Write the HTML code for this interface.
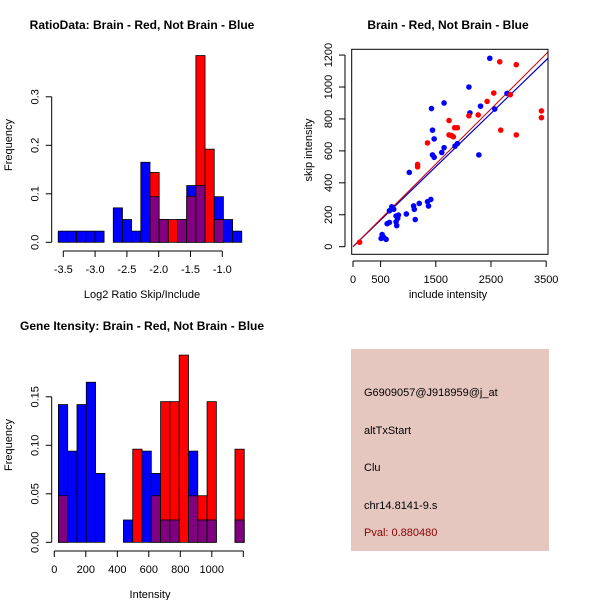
<!DOCTYPE html>
<html><head><meta charset="utf-8"><style>
html,body{margin:0;padding:0;background:#fff}
svg{display:block;font-family:"Liberation Sans",sans-serif}
</style></head><body>
<svg id="c" width="600" height="600" viewBox="0 0 600 600"></svg>
<script>
// ---- Data ----
const ratioBlue=[0.023,0.023,0.023,0.023,0.023,0,0.071,0.047,0.023,0.165,0.094,0.047,0,0.047,0.117,0.117,0,0.094,0.047,0.023];
const ratioRed=[0,0,0,0,0,0,0,0,0,0,0.144,0.047,0.047,0.047,0.095,0.385,0.192,0.047,0,0];
const ratioStart=-3.58, ratioWidth=0.1443;
const ratioTicks=[-3.5,-3.0,-2.5,-2.0,-1.5,-1.0];
const ratioYTicks=[0,0.1,0.2,0.3];
const intBlue=[0.142,0.094,0.142,0.165,0.071,0,0,0.023,0,0.094,0.071,0.023,0.023,0,0.094,0.023,0.023,0,0,0.023];
const intRed=[0.048,0,0,0,0,0,0,0,0.096,0,0.048,0.145,0.145,0.193,0.048,0.048,0.145,0,0,0.096];
const intStart=26, intWidth=59;
const intTicks=[0,200,400,600,800,1000,1200];
const intYTicks=[0,0.05,0.10,0.15];
const blueX=[528,510,558,600,618,660,702,660,738,780,780,792,810,822,966,1020,1098,1110,1128,1200,1350,1368,1410,1422,1440,1440,1470,1470,1650,1650,1608,1848,1890,2100,2118,2310,2280,2478,2568,2790];
const blueY=[76,52,58,46,144,152,250,225,234,192,156,132,178,198,205,465,255,234,170,271,282,255,296,865,730,575,560,675,900,620,590,630,645,1000,838,880,575,1180,862,960];
const redX=[120,1170,1170,1350,1740,1740,1788,1818,1842,1890,2100,2268,2430,2550,2658,2676,2850,2958,2958,3414,3414];
const redY=[28,500,515,650,790,700,695,688,745,745,820,825,910,962,1158,730,952,700,1140,850,808];
const redSlope=0.345, blueSlope=0.334;
const xTicksS=[0,500,1500,2500,3500];
const yTicksS=[0,200,400,600,800,1000,1200];
const infoLines=["G6909057@J918959@j_at","altTxStart","Clu","chr14.8141-9.s"];
const pval="Pval: 0.880480";

const svg=document.getElementById('c');
const NS='http://www.w3.org/2000/svg';
function mk(tag,attrs,parent){const e=document.createElementNS(NS,tag);for(const k in attrs)e.setAttribute(k,attrs[k]);(parent||svg).appendChild(e);return e;}
function txt(x,y,s,size,opts){const t=mk('text',Object.assign({x:x,y:y,'font-size':size,'text-anchor':'middle',fill:'#000'},opts||{}));t.textContent=s;return t;}

function hist(blue,red,start,width,sx,sy,name){
  const g=mk('g',{});
  
  
  for(let i=0;i<blue.length;i++){
    const x0=sx(start+i*width),x1=sx(start+(i+1)*width);
    const b=blue[i],r=red[i];
    const hi=Math.max(b,r),lo=Math.min(b,r);
    if(hi>0){
      const rc=mk('rect',{x:x0,y:sy(hi),width:x1-x0,height:sy(0)-sy(hi),fill:b>=r?'#0000ff':'#ff0000',stroke:'#000','stroke-width':0.8},g);
      
      
    }
    if(lo>0){
      const rc=mk('rect',{x:x0,y:sy(lo),width:x1-x0,height:sy(0)-sy(lo),fill:'#800080',stroke:'#000','stroke-width':0.8},g);
      
      
    }
  }
}
function yaxis(x,ticks,sy,fmt,name){
  const g=mk('g',{});
  
  
  mk('line',{x1:x,x2:x,y1:sy(ticks[0]),y2:sy(ticks[ticks.length-1]),stroke:'#000'},g);
  ticks.forEach(v=>{const y=sy(v);mk('line',{x1:x-6,x2:x,y1:y,y2:y,stroke:'#000'},g);
    const t=txt(x-13,y,fmt(v),11,{transform:'rotate(-90 '+(x-13)+' '+y+')'});g.appendChild(t);});
}
function xaxis(y,ticks,sx,fmt,name,skip){
  const g=mk('g',{});
  
  
  mk('line',{x1:sx(ticks[0]),x2:sx(ticks[ticks.length-1]),y1:y,y2:y,stroke:'#000'},g);
  ticks.forEach((v,i)=>{const x=sx(v);mk('line',{x1:x,x2:x,y1:y,y2:y+6,stroke:'#000'},g);
    if(!(skip&&skip.includes(i))){const t=txt(x,y+22,fmt(v),11);g.appendChild(t);}});
}

// Panel 1
{const sx=v=>63.3+(v+3.5)*63.6, sy=v=>242.3-v*485;
 hist(ratioBlue,ratioRed,ratioStart,ratioWidth,sx,sy,'ratio-histogram');
 yaxis(51.7,ratioYTicks,sy,v=>v.toFixed(1),'ratio-y-axis');
 xaxis(251,ratioTicks,sx,v=>v.toFixed(1),'ratio-x-axis');
 txt(142,29,'RatioData: Brain - Red, Not Brain - Blue',12,{'font-weight':'bold'});
 txt(142,298,'Log2 Ratio Skip/Include',11);
 txt(12,145,'Frequency',11,{transform:'rotate(-90 12 145)'});
}
// Panel 3
{const sx=v=>54.3+v*0.1575, sy=v=>542.3-v*970;
 hist(intBlue,intRed,intStart,intWidth,sx,sy,'intensity-histogram');
 yaxis(51.7,intYTicks,sy,v=>v.toFixed(2),'intensity-y-axis');
 xaxis(551,intTicks,sx,v=>String(v),'intensity-x-axis',[6]);
 txt(20,330,'Gene Itensity: Brain - Red, Not Brain - Blue',12,{'font-weight':'bold','text-anchor':'start'});
 txt(150,598,'Intensity',11);
 txt(12,445,'Frequency',11,{transform:'rotate(-90 12 445)'});
}
// Panel 2 scatter
{const sx=v=>353+v*0.0552, sy=v=>246.7-v*0.1597;
 const g=mk('g',{});
 
 
 mk('clipPath',{id:'cp'},g);
 mk('rect',{x:351.7,y:49.3,width:196.3,height:205},document.getElementById('cp'));
 const lines=mk('g',{'clip-path':'url(#cp)'},g);
 const l1=mk('line',{x1:sx(0),y1:sy(0),x2:sx(4000),y2:sy(4000*blueSlope),stroke:'#0000cc','stroke-width':1.2},lines);
 
 
 const l2=mk('line',{x1:sx(0),y1:sy(0),x2:sx(4000),y2:sy(4000*redSlope),stroke:'#cc0000','stroke-width':1},lines);
 
 
 blueX.forEach((x,i)=>{const c=mk('circle',{cx:sx(x),cy:sy(blueY[i]),r:2.8,fill:'#0000ff'},g);
   
   });
 redX.forEach((x,i)=>{const c=mk('circle',{cx:sx(x),cy:sy(redY[i]),r:2.8,fill:'#ff0000'},g);
   
   });
 const box=mk('rect',{x:351.7,y:49.3,width:196.3,height:205,fill:'none',stroke:'#000'},g);
 
 
 yaxis(345,yTicksS,sy,v=>String(v),'scatter-y-axis');
 xaxis(261,xTicksS,sx,v=>String(v),'scatter-x-axis');
 txt(448,29,'Brain - Red, Not Brain - Blue',12,{'font-weight':'bold'});
 txt(448,298,'include intensity',11);
 txt(312,150,'skip intensity',11,{transform:'rotate(-90 312 150)'});
}
// Info panel
{const g=mk('g',{});
 
 
 mk('rect',{x:351,y:349,width:198,height:202,fill:'#e5c7c0'},g);
 const ys=[396,434,471,509];
 infoLines.forEach((s,i)=>{const t=txt(364,ys[i],s,11,{'text-anchor':'start'});g.appendChild(t);});
 const p=txt(364,536,pval,11,{'text-anchor':'start',fill:'#8b0000'});g.appendChild(p);
 
}
</script>
</body></html>
